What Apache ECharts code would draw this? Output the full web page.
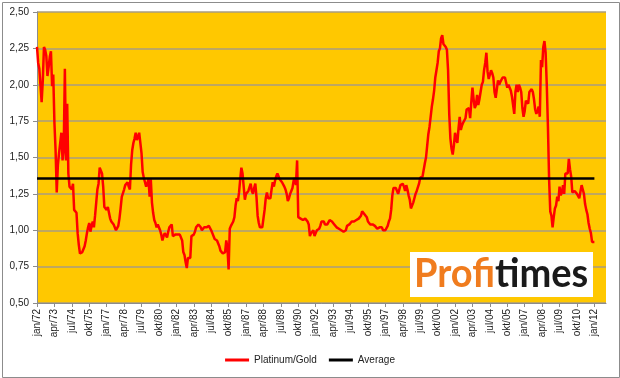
<!DOCTYPE html>
<html>
<head>
<meta charset="utf-8">
<script src="https://cdn.jsdelivr.net/npm/echarts@6/dist/echarts.min.js"></script>
<style>html,body{margin:0;padding:0;background:#fff;}#c{width:620px;height:378px;}</style>
</head>
<body>
<div id="c"></div>
<script>
// Month names (Dutch abbreviations) and year range for category labels
var monthNames = ['jan','feb','mrt','apr','mei','jun','jul','aug','sep','okt','nov','dec'];
var firstYear = 1972;
var lastCategoryIndex = 490; // axis runs slightly past jan/12
var labelEvery = 15;

// Platinum/Gold ratio, monthly
var ratio1970s = [
  2.26,2.15,2.11,2.10,1.88,2.03,2.26,2.24,2.20,2.06,2.12,2.19,
  2.23,1.99,2.07,1.74,1.55,1.26,1.45,1.53,1.60,1.67,1.48,1.55,
  2.11,1.48,1.87,1.39,1.30,1.29,1.28,1.32,1.14,1.13,1.12,0.98,
  0.90,0.84,0.84,0.85,0.85,0.89,0.93,0.98,1.02,1.05,0.99,1.03,
  1.06,1.02,1.10,1.19,1.28,1.32,1.43,1.41,1.39,1.30,1.16,1.15,
  1.14,1.16,1.17,1.08,1.06,1.05,1.04,1.02,1.00,0.99,1.03,1.08,
  1.15,1.23,1.24,1.28,1.31,1.32,1.33,1.30,1.28,1.45,1.55,1.60,
  1.63,1.67,1.62,1.64,1.67,1.60,1.53,1.40,1.36,1.33,1.30,1.32
];
var ratio1980s = [
  1.35,1.23,1.35,1.19,1.12,1.07,1.05,1.02,1.04,1.05,1.00,0.97,
  0.93,0.96,0.98,0.97,0.95,0.99,1.02,1.03,1.04,0.96,0.96,0.97,
  0.97,0.97,0.96,0.97,0.96,0.93,0.85,0.83,0.78,0.74,0.81,0.80,
  0.81,0.96,0.96,0.97,0.99,1.02,1.02,1.04,1.04,1.02,1.00,1.01,
  1.02,1.02,1.02,1.03,1.03,1.04,1.00,0.98,0.97,0.94,0.95,0.93,
  0.92,0.89,0.86,0.85,0.84,0.83,0.85,0.93,0.88,0.73,1.01,1.03,
  1.04,1.06,1.09,1.17,1.22,1.20,1.26,1.35,1.43,1.39,1.30,1.21,
  1.25,1.26,1.27,1.28,1.32,1.27,1.25,1.29,1.32,1.23,1.10,1.05,
  1.02,1.03,1.02,1.08,1.14,1.22,1.26,1.22,1.23,1.22,1.28,1.33,
  1.30,1.34,1.37,1.39,1.40,1.35,1.34,1.33,1.32,1.30,1.28,1.25
];
var ratio1990s = [
  1.20,1.22,1.25,1.27,1.29,1.34,1.36,1.31,1.48,1.09,1.08,1.08,
  1.08,1.07,1.06,1.08,1.09,1.06,1.04,0.96,0.98,0.99,1.00,0.96,
  0.98,1.00,1.00,1.01,1.03,1.06,1.06,1.06,1.04,1.03,1.04,1.05,
  1.07,1.07,1.06,1.06,1.04,1.03,1.02,1.01,1.01,1.00,1.00,0.99,
  0.99,1.00,1.00,1.03,1.03,1.04,1.05,1.06,1.06,1.06,1.06,1.07,
  1.08,1.08,1.09,1.10,1.13,1.12,1.11,1.10,1.09,1.06,1.05,1.04,
  1.04,1.04,1.03,1.03,1.02,1.01,1.01,1.02,1.03,1.02,1.00,1.00,
  1.00,1.00,1.03,1.06,1.08,1.14,1.24,1.29,1.30,1.29,1.28,1.25,
  1.24,1.31,1.32,1.32,1.30,1.27,1.31,1.28,1.24,1.21,1.15,1.17,
  1.19,1.22,1.25,1.27,1.28,1.32,1.36,1.37,1.37,1.38,1.46,1.50
];
var ratio2000s = [
  1.58,1.66,1.71,1.71,1.85,1.90,1.96,2.05,2.10,2.15,2.23,2.25,
  2.32,2.34,2.28,2.28,2.26,2.24,2.10,1.80,1.63,1.56,1.52,1.58,
  1.67,1.63,1.60,1.70,1.78,1.69,1.72,1.74,1.75,1.77,1.83,1.84,
  1.84,1.77,1.88,1.98,1.90,1.84,1.86,1.93,1.86,1.90,1.95,2.00,
  2.02,2.10,2.15,2.22,2.09,2.04,2.03,2.10,2.08,2.05,1.95,1.91,
  1.97,2.03,2.00,2.02,2.03,2.05,2.06,2.05,2.05,1.98,2.00,2.01,
  1.96,1.92,1.86,1.80,1.95,2.00,1.95,2.00,1.98,1.95,1.84,1.78,
  1.82,1.89,1.88,1.87,1.95,1.96,1.97,1.95,1.90,1.83,1.80,1.82,
  1.85,1.78,2.17,2.12,2.26,2.30,2.22,2.00,1.71,1.35,1.13,1.10,
  1.02,1.09,1.15,1.17,1.23,1.20,1.30,1.24,1.26,1.31,1.25,1.39
];
var ratio2010s = [
  1.39,1.39,1.49,1.42,1.37,1.26,1.27,1.27,1.26,1.25,1.24,1.22,
  1.21,1.31,1.28,1.25,1.18,1.14,1.11,1.05,1.01,0.98,0.92,0.92,
  0.92
];
var averageValue = 1.355;

var yTickMin = 0.5, yTickMax = 2.5, yTickStep = 0.25;

var categories = [];
for (var i = 0; i <= lastCategoryIndex; i++) {
  var y = firstYear + Math.floor(i / 12);
  categories.push(monthNames[i % 12] + '/' + String(y).slice(2));
}
var ratio = [].concat(ratio1970s, ratio1980s, ratio1990s, ratio2000s, ratio2010s);
var avgLine = [[categories[0], averageValue], [categories[ratio.length - 1], averageValue]];

var chart = echarts.init(document.getElementById('c'), null, {renderer: 'canvas'});
var FONT = 'Liberation Sans';
chart.setOption({
  animation: false,
  backgroundColor: '#ffffff',
  textStyle: {fontFamily: FONT},
  grid: {left: 37, right: 14, top: 12, bottom: 75, containLabel: false,
         show: true, backgroundColor: '#FFC800', borderWidth: 0},
  legend: {
    bottom: 8, left: 'center', itemWidth: 24, itemHeight: 10, itemGap: 12,
    textStyle: {fontFamily: FONT, fontSize: 10, color: '#222'},
    data: [{name: 'Platinum/Gold', icon: 'path://M0,0 L24,0 L24,3 L0,3 Z'},
           {name: 'Average', icon: 'path://M0,0 L24,0 L24,3 L0,3 Z'}]
  },
  xAxis: {
    type: 'category', data: categories, boundaryGap: false,
    axisLine: {lineStyle: {color: '#8C8C8C', width: 1}},
    axisTick: {interval: labelEvery - 1, length: 4, lineStyle: {color: '#8C8C8C'}},
    axisLabel: {interval: labelEvery - 1, rotate: 90, fontSize: 10, color: '#222', margin: 6, fontFamily: FONT},
    splitLine: {show: false}
  },
  yAxis: {
    type: 'value', min: yTickMin, max: yTickMax, interval: yTickStep,
    axisLine: {show: true, lineStyle: {color: '#8C8C8C'}},
    axisTick: {show: true, length: 4, lineStyle: {color: '#8C8C8C'}},
    axisLabel: {fontSize: 10, color: '#222', margin: 8, fontFamily: FONT,
      formatter: function (v) { return v.toFixed(2).replace('.', ','); }},
    splitLine: {lineStyle: {color: '#A89C80', width: 1.5}}
  },
  series: [
    {name: 'Platinum/Gold', type: 'line', data: ratio, symbol: 'none', z: 3,
     lineStyle: {color: '#FF0000', width: 2.5}, itemStyle: {color: '#FF0000'}},
    {name: 'Average', type: 'line', data: avgLine, symbol: 'none', z: 4,
     lineStyle: {color: '#000000', width: 2.5}, itemStyle: {color: '#000000'}}
  ],
  graphic: [
    {type: 'rect', left: 0, top: 0, shape: {x: 0.5, y: 0.5, width: 617, height: 375},
     style: {fill: 'none', stroke: '#8C8C8C', lineWidth: 1}, silent: true, z: 100},
    {type: 'rect', shape: {x: 410, y: 252, width: 183, height: 45},
     style: {fill: '#ffffff'}, z: 50},
    {type: 'text', x: 414, y: 252, z: 51, scaleX: 0.95,
     style: {text: '{a|Profi}{b|times}', rich: {
       a: {fontFamily: 'Lato', fontWeight: 'bold', fontSize: 40, fill: '#F07C1E', lineHeight: 44},
       b: {fontFamily: 'Lato', fontWeight: 'bold', fontSize: 40, fill: '#1A1A1A', lineHeight: 44}
     }}}
  ]
});
</script>
</body>
</html>
